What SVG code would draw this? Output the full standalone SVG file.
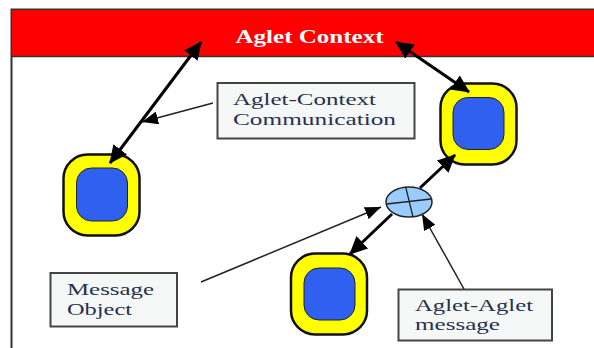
<svg xmlns="http://www.w3.org/2000/svg" width="594" height="348" viewBox="0 0 594 348">
<defs>
<marker id="big" markerUnits="userSpaceOnUse" markerWidth="18" markerHeight="17" refX="17" refY="8.500" orient="auto-start-reverse"><path d="M0 0L18 8.500L0 17Z" fill="#000"/></marker>
<marker id="small" markerUnits="userSpaceOnUse" markerWidth="16" markerHeight="13" refX="16" refY="6.500" orient="auto"><path d="M0 0L16 6.500L0 13Z" fill="#000"/></marker>
</defs>
<style>
.outer{fill:#ff0;stroke:#111;stroke-width:2.5}
.inner{fill:#3060f0;stroke:#222;stroke-width:1}
.box{fill:#f6f8f7;stroke:#444;stroke-width:2}
.t{font-family:"Liberation Serif",serif;font-size:17px;fill:#26304f}
.thick{stroke:#000;stroke-width:3;fill:none}
.both{marker-start:url(#big);marker-end:url(#big)}
.one{marker-end:url(#big)}
.thin{stroke:#222;stroke-width:1.500;fill:none;marker-end:url(#small)}
</style>
<rect width="594" height="348" fill="#fff"/>
<g id="context">
<path d="M11.500 348V9.500H594" fill="none" stroke="#333" stroke-width="2"/>
<rect x="12" y="10" width="582" height="46.500" fill="#ff0000"/>
<path d="M12 56.500H594" stroke="#333" stroke-width="1.500"/>
<text x="235.500" y="42.500" font-family="'Liberation Serif',serif" font-size="18.500" font-weight="bold" fill="#fff" textLength="148" lengthAdjust="spacingAndGlyphs">Aglet Context</text>
</g>
<g id="agent-left">
<rect class="outer" x="63.500" y="154.500" width="76" height="81" rx="24"/>
<rect class="inner" x="76.500" y="168" width="51" height="53" rx="15"/>
</g>
<g id="agent-top-right">
<rect class="outer" x="440.500" y="83.500" width="76" height="81" rx="24"/>
<rect class="inner" x="453" y="97.500" width="51" height="52" rx="15"/>
</g>
<g id="agent-bottom">
<rect class="outer" x="291" y="253.500" width="76" height="81" rx="24"/>
<rect class="inner" x="304" y="268" width="51" height="52" rx="15"/>
</g>
<g id="label-communication">
<rect class="box" x="217.500" y="83" width="197" height="55.500"/>
<text class="t" x="233" y="104.500" textLength="143" lengthAdjust="spacingAndGlyphs">Aglet-Context</text>
<text class="t" x="233" y="124.500" textLength="163" lengthAdjust="spacingAndGlyphs">Communication</text>
</g>
<g id="label-message-object">
<rect class="box" x="50.500" y="273" width="126.500" height="53.500"/>
<text class="t" x="67" y="295" textLength="87" lengthAdjust="spacingAndGlyphs">Message</text>
<text class="t" x="67" y="315" textLength="65" lengthAdjust="spacingAndGlyphs">Object</text>
</g>
<g id="label-aglet-message">
<rect class="box" x="398.500" y="289.500" width="153.500" height="51"/>
<text class="t" x="415" y="310.500" textLength="118" lengthAdjust="spacingAndGlyphs">Aglet-Aglet</text>
<text class="t" x="415" y="330" textLength="85" lengthAdjust="spacingAndGlyphs">message</text>
</g>
<g id="connectors">
<path class="thick both" d="M201 42L110 163"/>
<path class="thick both" d="M396 42L469 92"/>
<path class="thin" d="M213 103L142 122"/>
<path class="thin" d="M201 282L381 207"/>
<path class="thin" d="M464 289L422 214"/>
<path class="thick one" d="M420 188L455 155"/>
<path class="thick one" d="M392 214L350 254"/>
</g>
<g id="message-object">
<ellipse cx="409" cy="202" rx="23" ry="15" fill="#99ccff" stroke="#222" stroke-width="1.500"/>
<path d="M405.700 187L413 217M386.700 204L431 199" stroke="#222" stroke-width="1.300" fill="none"/>
</g>
</svg>
